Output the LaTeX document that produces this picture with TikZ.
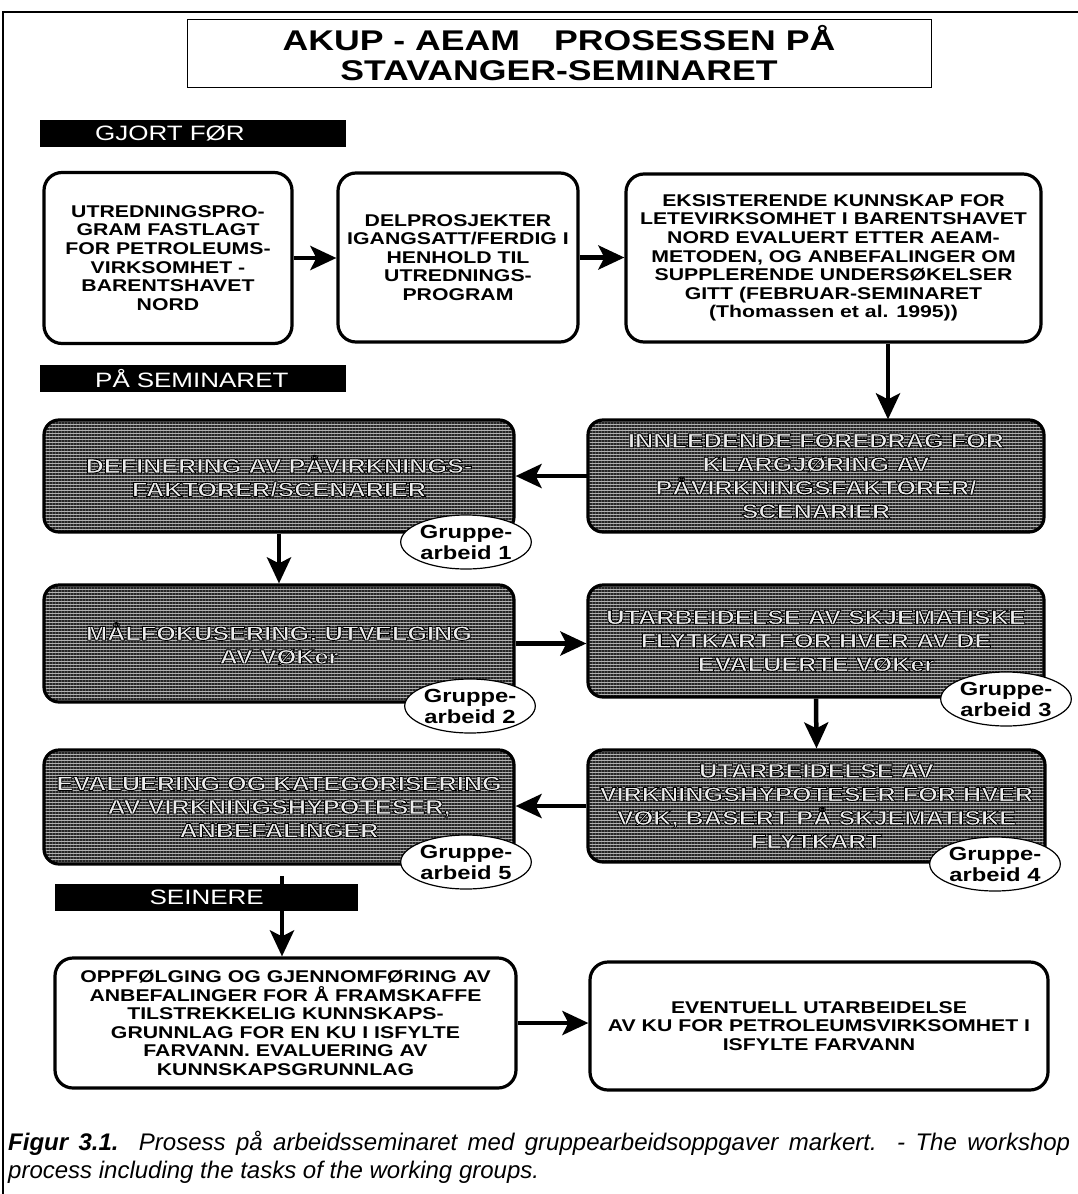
\documentclass[tikz,border=0pt]{standalone}
\usepackage{fontspec}
\setmainfont{Liberation Sans}
\newfontfamily\boxfont[FakeStretch=1.25]{Liberation Sans}
\usetikzlibrary{arrows.meta,shapes.geometric,patterns.meta}

% glyphs filled with the current colour and stroked in black
\newcommand\outlined{\special{pdf:literal direct 0 0 0 RG 0.85 w 2 Tr}}

\tikzset{
  plainbox/.style={draw, line width=3.2pt, rounded corners=18pt, fill=white,
    align=center, inner sep=0pt,
    font=\boxfont\bfseries\fontsize{17}{18.6}\selectfont},
  shadebox/.style={draw, line width=3.2pt, rounded corners=15pt,
    align=center, inner sep=0pt, preaction={fill=gray!60},
    pattern={Lines[angle=0,distance=3pt,line width=1.3pt]}, pattern color=black!85,
    text=gray!15, font=\boxfont\bfseries\fontsize{20.2}{23.5}\selectfont},
  groupnote/.style={ellipse, draw, line width=1.2pt, fill=white,
    minimum width=112pt, minimum height=54pt, inner sep=0pt, align=center,
    font=\boxfont\bfseries\fontsize{19}{21}\selectfont},
  phasebar/.style={fill=black, text=white, minimum height=27pt, inner sep=0pt,
    font=\boxfont\fontsize{20.8}{24}\selectfont},
  flow/.style={line width=4.5pt, -{Stealth[length=26pt,width=24pt,inset=6pt]}},
}

\begin{document}
\begin{tikzpicture}[x=1pt,y=-1pt]
\useasboundingbox (0,0) rectangle (1078,1194);

% page frame
\draw[line width=1.6pt] (3,1194) -- (3,12) -- (1078,12);

% heading
\node[draw, line width=1pt, minimum width=744pt, minimum height=68pt, inner sep=0pt,
      align=center, font=\boxfont\bfseries\fontsize{28.5}{30}\selectfont]
  (title) at (559,53) {AKUP - AEAM\hspace{1.2em}PROSESSEN PÅ\\STAVANGER-SEMINARET};

% phase bars
\node[phasebar, anchor=north west, text width=196pt, inner xsep=55pt, align=left]
  (before) at (40,120) {GJORT FØR};
\node[phasebar, anchor=north west, text width=196pt, inner xsep=55pt, align=left]
  (during) at (40,365) {PÅ SEMINARET};
\node[phasebar, anchor=north west, minimum width=303pt]
  (after) at (55,884) {SEINERE};

% earlier work
\node[plainbox, minimum width=248pt, minimum height=171pt] (A) at (168,258)
  {UTREDNINGSPRO-\\GRAM FASTLAGT\\FOR PETROLEUMS-\\VIRKSOMHET -\\BARENTSHAVET\\NORD};
\node[plainbox, minimum width=240pt, minimum height=169pt] (B) at (458,257.5)
  {DELPROSJEKTER\\IGANGSATT/FERDIG I\\HENHOLD TIL\\UTREDNINGS-\\PROGRAM};
\node[plainbox, minimum width=415pt, minimum height=168pt] (C) at (833.5,258)
  {EKSISTERENDE KUNNSKAP FOR\\LETEVIRKSOMHET I BARENTSHAVET\\NORD EVALUERT ETTER AEAM-\\METODEN, OG ANBEFALINGER OM\\SUPPLERENDE UNDERSØKELSER\\GITT (FEBRUAR-SEMINARET\\(Thomassen et al. 1995))};

% seminar steps
\node[shadebox, minimum width=456pt, minimum height=112pt] (D) at (816,476)
  {\outlined INNLEDENDE FOREDRAG FOR\\KLARGJØRING AV\\PÅVIRKNINGSFAKTORER/\\SCENARIER};
\node[shadebox, minimum width=470pt, minimum height=112pt] (E) at (279,476)
  {\outlined DEFINERING AV PÅVIRKNINGS-\\FAKTORER/SCENARIER};
\node[shadebox, minimum width=470pt, minimum height=117pt] (F) at (279,643.5)
  {\outlined MÅLFOKUSERING: UTVELGING\\AV VØKer};
\node[shadebox, minimum width=456pt, minimum height=112pt] (G) at (816,641)
  {\outlined UTARBEIDELSE AV SKJEMATISKE\\FLYTKART FOR HVER AV DE\\EVALUERTE VØKer};
\node[shadebox, minimum width=457pt, minimum height=112pt] (H) at (816.5,806)
  {\outlined UTARBEIDELSE AV\\VIRKNINGSHYPOTESER FOR HVER\\VØK, BASERT PÅ SKJEMATISKE\\FLYTKART};
\node[shadebox, minimum width=470pt, minimum height=114pt] (I) at (279,807)
  {\outlined EVALUERING OG KATEGORISERING\\AV VIRKNINGSHYPOTESER,\\ANBEFALINGER};

% group work labels
\node[groupnote] (g1) at (466,542) {Gruppe-\\arbeid 1};
\node[groupnote] (g2) at (470,706) {Gruppe-\\arbeid 2};
\node[groupnote] (g3) at (1006,699) {Gruppe-\\arbeid 3};
\node[groupnote] (g4) at (995,864) {Gruppe-\\arbeid 4};
\node[groupnote] (g5) at (466,862) {Gruppe-\\arbeid 5};

% later work
\node[plainbox, minimum width=461pt, minimum height=130pt] (J) at (285.5,1023)
  {OPPFØLGING OG GJENNOMFØRING AV\\ANBEFALINGER FOR Å FRAMSKAFFE\\TILSTREKKELIG KUNNSKAPS-\\GRUNNLAG FOR EN KU I ISFYLTE\\FARVANN. EVALUERING AV\\KUNNSKAPSGRUNNLAG};
\node[plainbox, minimum width=458pt, minimum height=128pt] (K) at (819,1026)
  {EVENTUELL UTARBEIDELSE\\AV KU FOR PETROLEUMSVIRKSOMHET I\\ISFYLTE FARVANN};

% connectors
\draw[flow] (A.east) -- (A.east -| B.west);
\draw[flow] (B.east) -- (B.east -| C.west);
\draw[flow] ([xshift=54.5pt]C.south) -- ([xshift=54.5pt]C.south |- D.north);
\draw[flow] (D.west) -- (E.east);
\draw[flow] (E.south) -- (F.north);
\draw[flow] (F.east) -- (F.east -| G.west);
\draw[flow] (G.south) -- (H.north);
\draw[flow] (H.west) -- (H.west -| I.east);
\coordinate (late) at (282,876);
\draw[flow] (late) -- (late |- J.north);
\draw[flow] (J.east) -- (J.east -| K.west);

% caption
\node[anchor=north west, inner sep=0pt, text width=1062pt, align=justify,
      font=\fontsize{24}{28}\selectfont\itshape] (cap) at (8,1131)
  {\textbf{Figur 3.1.} Prosess på arbeidsseminaret med gruppearbeidsoppgaver markert. - The workshop\linebreak process including the tasks of the working groups.};
\end{tikzpicture}
\end{document}
